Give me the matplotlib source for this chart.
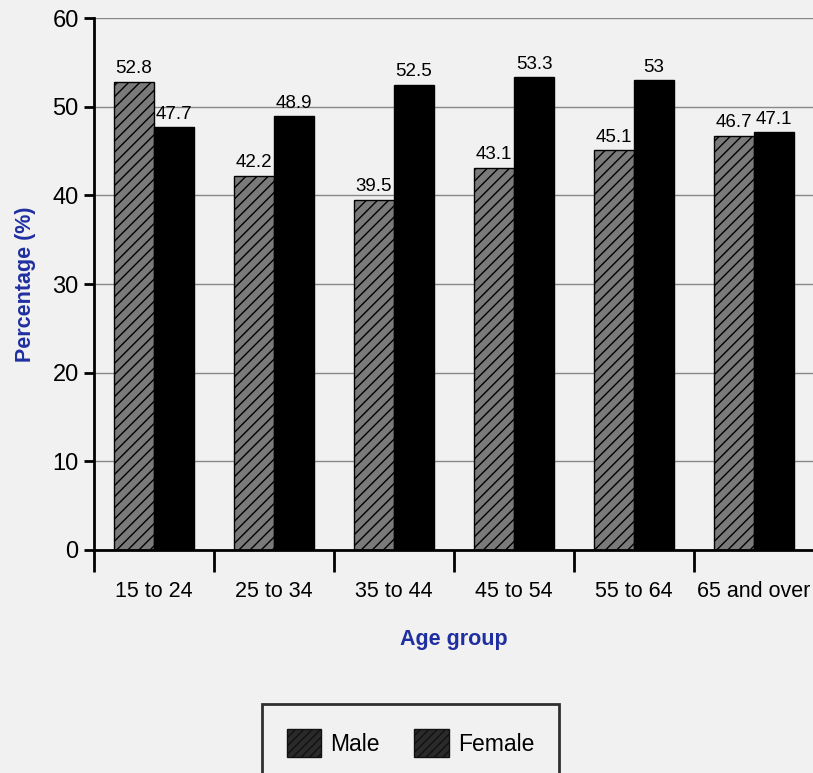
import numpy as np
from matplotlib import pyplot as plt
from matplotlib.patches import Patch

# данные с картинки
groups = ['15 to 24', '25 to 34', '35 to 44', '45 to 54', '55 to 64', '65 and over']
male = [52.8, 42.2, 39.5, 43.1, 45.1, 46.7]
female = [47.7, 48.9, 52.5, 53.3, 53, 47.1]
male_lbl = ['52.8', '42.2', '39.5', '43.1', '45.1', '46.7']
female_lbl = ['47.7', '48.9', '52.5', '53.3', '53', '47.1']

plt.rcParams['font.family'] = ['Liberation Sans', 'DejaVu Sans']
plt.rcParams['hatch.linewidth'] = 1.0

fig = plt.figure(figsize=(8.13, 7.73), dpi=100, facecolor='#f1f1f1')
ax = fig.add_axes([94/813, 1 - 550/773, 720/813, 532/773])
ax.set_facecolor('#f1f1f1')

x = np.arange(len(groups))
w = 0.333
b1 = ax.bar(x - w/2, male, w, color='#7a7a7a', edgecolor='black', hatch='///', linewidth=1, zorder=3)
b2 = ax.bar(x + w/2, female, w, color='black', edgecolor='black', linewidth=1, zorder=3)

for r, t in zip(b1, male_lbl):
    ax.text(r.get_x() + r.get_width()/2, r.get_height() + 0.5, t, ha='center', va='bottom', fontsize=13.5)
for r, t in zip(b2, female_lbl):
    ax.text(r.get_x() + r.get_width()/2, r.get_height() + 0.5, t, ha='center', va='bottom', fontsize=13.5)

# оси
ax.set_xlim(-0.5, len(groups) - 0.5)
ax.set_ylim(0, 60)
ax.set_yticks(range(0, 61, 10))
ax.set_xticks(x)
ax.set_xticklabels(groups, fontsize=15.5)
ax.tick_params(axis='x', length=0, pad=22)
ax.set_xticks(np.arange(-0.5, len(groups)), minor=True)
ax.tick_params(axis='x', which='minor', length=16, width=2, direction='out')
ax.tick_params(axis='y', labelsize=17, length=7, width=2, direction='out', pad=4)
ax.yaxis.grid(True, color='#888888', linewidth=1, zorder=0)
for s in ['top', 'right']:
    ax.spines[s].set_visible(False)
ax.spines['left'].set_linewidth(2)
ax.spines['bottom'].set_linewidth(2)
ax.spines['left'].set_zorder(4)
ax.spines['bottom'].set_zorder(4)

ax.set_ylabel('Percentage (%)', fontsize=15.5, fontweight='bold', color='#1f2fa0', labelpad=12)
ax.set_xlabel('Age group', fontsize=15.5, fontweight='bold', color='#1f2fa0', labelpad=20)

# легенда
h = [Patch(facecolor='#2a2a2a', edgecolor='#111111', hatch='////', label='Male'),
     Patch(facecolor='#2a2a2a', edgecolor='#111111', hatch='////', label='Female')]
leg = fig.legend(handles=h, loc='upper center', bbox_to_anchor=(0.505, 1 - 704/773), ncol=2,
                 fontsize=16.5, frameon=True, fancybox=False, borderpad=1.1, handlelength=1.5,
                 handleheight=1.5, columnspacing=1.5, handletextpad=0.4, borderaxespad=0)
leg.get_frame().set_edgecolor('black')
leg.get_frame().set_linewidth(2)
leg.get_frame().set_facecolor('#f1f1f1')

fig.savefig('out.png', dpi=100, facecolor=fig.get_facecolor())
